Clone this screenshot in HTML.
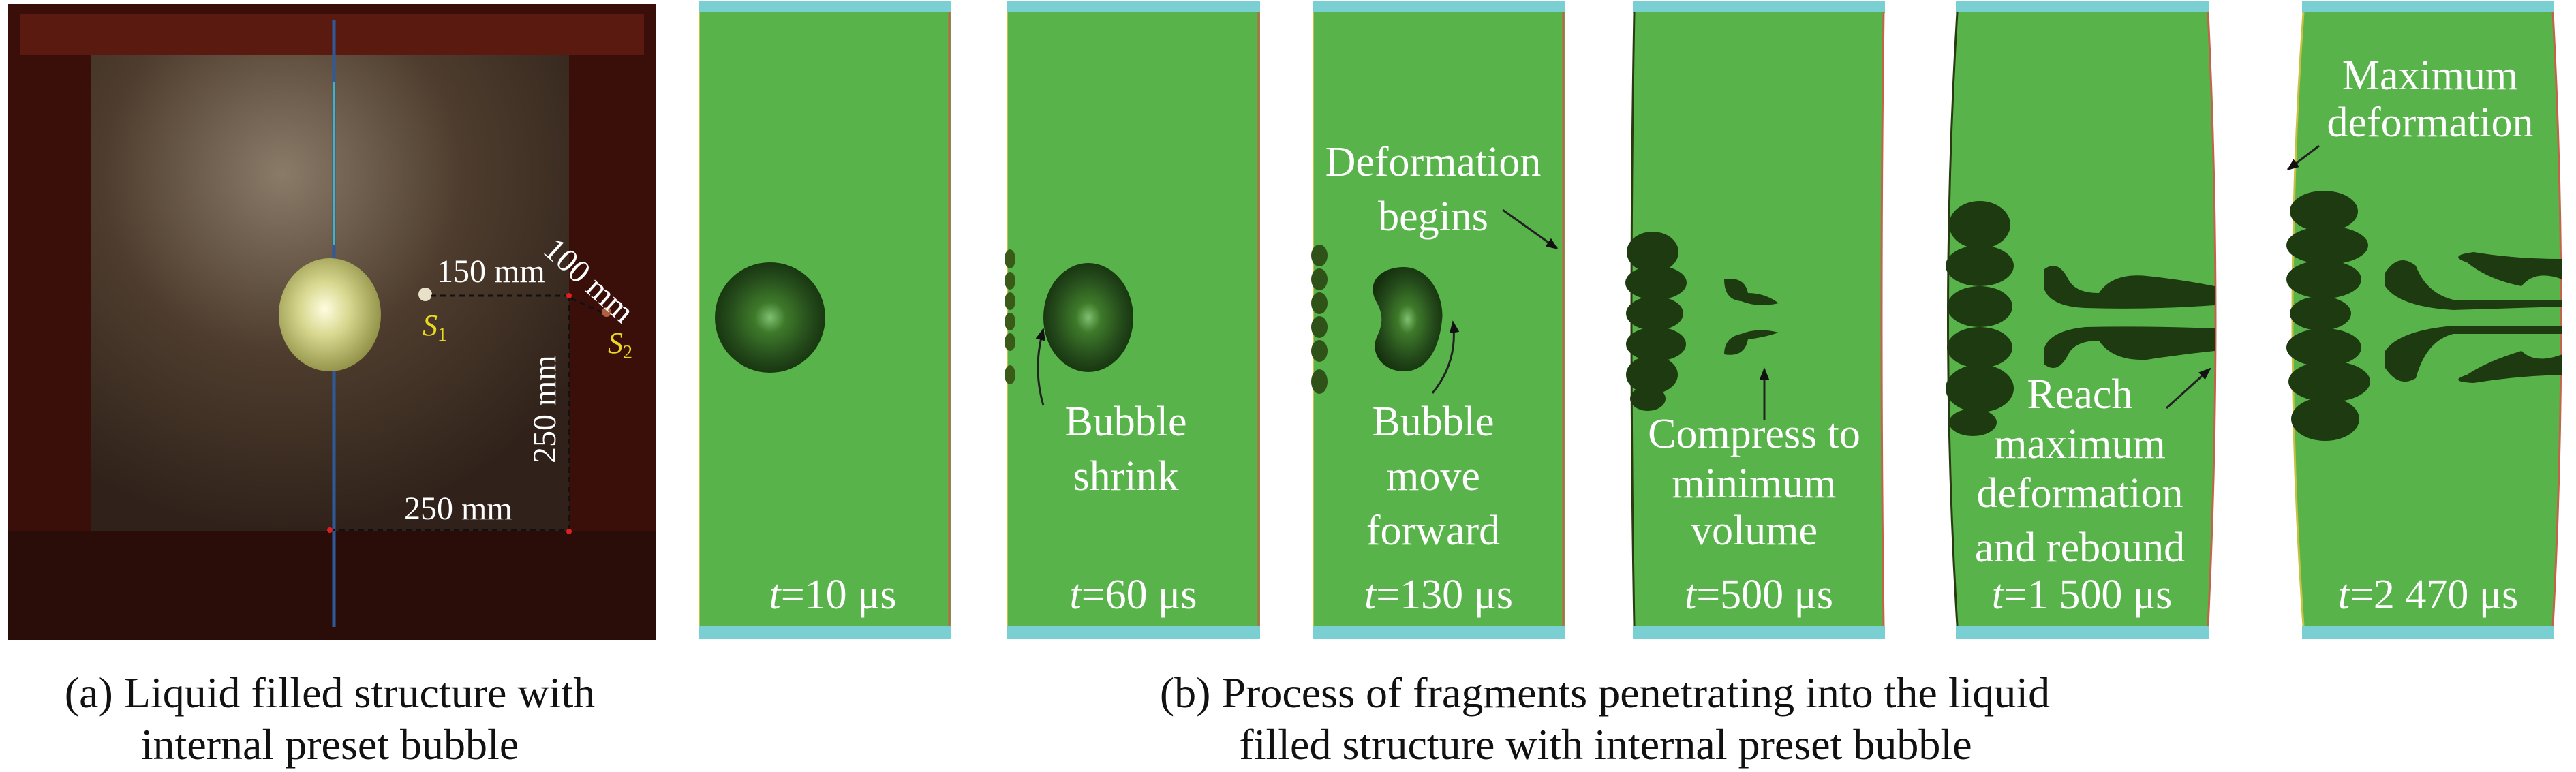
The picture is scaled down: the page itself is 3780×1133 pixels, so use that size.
<!DOCTYPE html>
<html><head><meta charset="utf-8"><style>
html,body{margin:0;padding:0;background:#fff;}
svg{display:block;}
text{font-family:"Liberation Serif","Times New Roman",serif;}
</style></head><body>
<svg width="3780" height="1133" viewBox="0 0 3780 1133" xmlns="http://www.w3.org/2000/svg" font-family="Liberation Serif, Times New Roman, serif">
<defs>
<radialGradient id="bub" cx="50%" cy="50%" r="55%">
<stop offset="0" stop-color="#7fc070"/><stop offset="0.25" stop-color="#3e7a2a"/><stop offset="0.7" stop-color="#23481a"/><stop offset="1" stop-color="#14300c"/></radialGradient>
<radialGradient id="bal" cx="45%" cy="45%" r="60%">
<stop offset="0" stop-color="#fffde0"/><stop offset="0.4" stop-color="#d8d890"/><stop offset="1" stop-color="#8a8a40"/></radialGradient>
<radialGradient id="plate" cx="40%" cy="25%" r="75%">
<stop offset="0" stop-color="#8a7a68"/><stop offset="0.5" stop-color="#4e3d2e"/><stop offset="1" stop-color="#30221a"/></radialGradient>
<marker id="ah" viewBox="0 0 10 10" refX="9" refY="5" markerWidth="6" markerHeight="6" orient="auto"><path d="M0,1 L10,5 L0,9 z" fill="#111"/></marker>
</defs>

<!-- Photo (a) -->
<rect x="12" y="6" width="950" height="934" fill="#3a0f0a"/>
<rect x="30" y="20" width="915" height="60" fill="#5a1a10"/>
<rect x="133" y="80" width="702" height="700" fill="url(#plate)"/>
<rect x="12" y="780" width="950" height="160" fill="#2a0d08"/>
<line x1="490" y1="30" x2="490" y2="920" stroke="#2f5a9a" stroke-width="5"/>
<line x1="490" y1="120" x2="490" y2="360" stroke="#4fb0b0" stroke-width="4"/>
<ellipse cx="484" cy="462" rx="75" ry="83" fill="url(#bal)"/>
<circle cx="624" cy="432" r="10" fill="#e8e0c8"/>
<circle cx="890" cy="458" r="7" fill="#b06040"/>
<g stroke="#111" stroke-width="3" stroke-dasharray="8,6" fill="none">
<line x1="632" y1="434" x2="835" y2="434"/>
<line x1="835" y1="434" x2="835" y2="780"/>
<line x1="484" y1="778" x2="835" y2="778"/>
<line x1="838" y1="438" x2="882" y2="458"/>
</g>
<circle cx="835" cy="434" r="4" fill="#e02020"/><circle cx="835" cy="780" r="4" fill="#e02020"/><circle cx="484" cy="778" r="4" fill="#e02020"/>
<g fill="#fff" font-size="48">
<text x="641" y="414">150 mm</text>
<text x="593" y="762">250 mm</text>
<text transform="translate(815,680) rotate(-90)">250 mm</text>
<text transform="translate(795,370) rotate(42)">100 mm</text>
</g>
<text x="620" y="492" font-size="44" fill="#e8d820" font-style="italic">S<tspan font-size="28" font-style="normal" dy="8">1</tspan></text>
<text x="892" y="518" font-size="44" fill="#e8d820" font-style="italic">S<tspan font-size="28" font-style="normal" dy="8">2</tspan></text>

<!-- Panels -->
<g>
<rect x="1025" y="2" width="370" height="17" fill="#7acfd3"/>
<rect x="1025" y="918" width="370" height="20" fill="#7acfd3"/>
<rect x="1025" y="18" width="370" height="900" fill="#58b44a"/>
<line x1="1393" y1="18" x2="1393" y2="918" stroke="#c0654a" stroke-width="3"/>
<line x1="1026" y1="18" x2="1026" y2="918" stroke="#c8c040" stroke-width="2"/>
<ellipse cx="1130" cy="466" rx="81" ry="81" fill="url(#bub)"/>
</g>
<g>
<rect x="1477" y="2" width="372" height="17" fill="#7acfd3"/>
<rect x="1477" y="918" width="372" height="20" fill="#7acfd3"/>
<rect x="1477" y="18" width="372" height="900" fill="#58b44a"/>
<line x1="1847" y1="18" x2="1847" y2="918" stroke="#c0654a" stroke-width="3"/>
<line x1="1478" y1="18" x2="1478" y2="918" stroke="#c8c040" stroke-width="2"/>
<g fill="#3a5a18"><ellipse cx="1482" cy="380" rx="8" ry="14"/><ellipse cx="1482" cy="412" rx="8" ry="13"/><ellipse cx="1482" cy="442" rx="8" ry="13"/><ellipse cx="1482" cy="472" rx="8" ry="13"/><ellipse cx="1482" cy="502" rx="8" ry="13"/><ellipse cx="1482" cy="550" rx="8" ry="14"/></g>
<ellipse cx="1597" cy="466" rx="66" ry="80" fill="url(#bub)"/>
<path d="M1531,595 Q1515,540 1531,483" stroke="#222" stroke-width="3" fill="none" marker-end="url(#ah)"/>
</g>
<g>
<rect x="1926" y="2" width="370" height="17" fill="#7acfd3"/>
<rect x="1926" y="918" width="370" height="20" fill="#7acfd3"/>
<rect x="1926" y="18" width="370" height="900" fill="#58b44a"/>
<line x1="2294" y1="18" x2="2294" y2="918" stroke="#c0654a" stroke-width="3"/>
<line x1="1927" y1="18" x2="1927" y2="918" stroke="#c8c040" stroke-width="2"/>
<g fill="#2f5218"><ellipse cx="1936" cy="375" rx="12" ry="16"/><ellipse cx="1936" cy="410" rx="12" ry="16"/><ellipse cx="1936" cy="445" rx="12" ry="16"/><ellipse cx="1936" cy="480" rx="12" ry="16"/><ellipse cx="1936" cy="515" rx="12" ry="16"/><ellipse cx="1936" cy="560" rx="12" ry="18"/></g>
<path d="M2060,392 C2100,392 2120,440 2116,470 C2112,510 2095,545 2060,545 C2030,545 2010,520 2020,495 C2030,475 2030,460 2018,440 C2005,410 2030,392 2060,392 Z" fill="url(#bub)"/>
<path d="M2102,577 Q2140,530 2132,472" stroke="#222" stroke-width="3" fill="none" marker-end="url(#ah)"/>
<line x1="2205" y1="308" x2="2285" y2="365" stroke="#222" stroke-width="3" marker-end="url(#ah)"/>
</g>
<g>
<rect x="2396" y="2" width="370" height="17" fill="#7acfd3"/>
<rect x="2396" y="918" width="370" height="20" fill="#7acfd3"/>
<path d="M2398,18 L2764,18 Q2758,468 2764,918 L2398,918 Q2390,468 2398,18 Z" fill="#58b44a"/>
<path d="M2764,18 Q2758,468 2764,918" stroke="#c0654a" stroke-width="3" fill="none"/>
<path d="M2398,18 Q2390,468 2398,918" stroke="#2a3a10" stroke-width="3" fill="none"/>
<g fill="#1e3a10">
<ellipse cx="2425" cy="370" rx="38" ry="30"/><ellipse cx="2430" cy="415" rx="45" ry="25"/><ellipse cx="2428" cy="460" rx="42" ry="25"/><ellipse cx="2430" cy="505" rx="44" ry="25"/><ellipse cx="2424" cy="550" rx="38" ry="28"/><ellipse cx="2418" cy="585" rx="26" ry="18"/>
<path d="M2530,410 Q2560,405 2565,430 Q2590,430 2610,445 Q2580,452 2555,442 Q2530,440 2530,410Z"/>
<path d="M2530,520 Q2560,525 2565,498 Q2590,495 2610,488 Q2580,480 2555,490 Q2530,495 2530,520Z"/>
</g>
<line x1="2589" y1="617" x2="2589" y2="541" stroke="#222" stroke-width="3" marker-end="url(#ah)"/>
</g>
<g>
<rect x="2870" y="2" width="372" height="17" fill="#7acfd3"/>
<rect x="2870" y="918" width="372" height="20" fill="#7acfd3"/>
<path d="M2872,18 L3240,18 Q3262,468 3240,918 L2872,918 Q2845,468 2872,18 Z" fill="#58b44a"/>
<path d="M3240,18 Q3262,468 3240,918" stroke="#c0654a" stroke-width="3" fill="none"/>
<path d="M2872,18 Q2845,468 2872,918" stroke="#2a3a10" stroke-width="3" fill="none"/>
<g fill="#1e3a10">
<ellipse cx="2905" cy="330" rx="45" ry="35"/><ellipse cx="2905" cy="390" rx="50" ry="30"/><ellipse cx="2905" cy="450" rx="48" ry="30"/><ellipse cx="2905" cy="510" rx="48" ry="30"/><ellipse cx="2905" cy="570" rx="50" ry="35"/><ellipse cx="2895" cy="620" rx="35" ry="20"/>
<path d="M3000,395 Q3020,380 3035,410 Q3045,430 3080,430 Q3100,400 3150,405 Q3200,410 3250,420 L3250,448 Q3150,455 3060,452 Q3010,450 3000,425Z"/>
<path d="M3000,535 Q3020,550 3035,520 Q3045,500 3080,500 Q3100,530 3150,528 Q3200,520 3250,515 L3250,482 Q3150,478 3060,480 Q3010,485 3000,510Z"/>
</g>
<line x1="3179" y1="599" x2="3243" y2="541" stroke="#222" stroke-width="3" marker-end="url(#ah)"/>
</g>
<g>
<rect x="3378" y="2" width="370" height="17" fill="#7acfd3"/>
<rect x="3378" y="918" width="370" height="20" fill="#7acfd3"/>
<path d="M3380,18 L3746,18 Q3770,468 3746,918 L3380,918 Q3348,468 3380,18 Z" fill="#58b44a"/>
<path d="M3746,18 Q3770,468 3746,918" stroke="#c0654a" stroke-width="3" fill="none"/>
<path d="M3380,18 Q3348,468 3380,918" stroke="#c8c040" stroke-width="3" fill="none"/>
<g fill="#1e3a10">
<ellipse cx="3410" cy="310" rx="50" ry="30"/><ellipse cx="3415" cy="360" rx="60" ry="28"/><ellipse cx="3410" cy="410" rx="55" ry="28"/><ellipse cx="3405" cy="460" rx="45" ry="25"/><ellipse cx="3410" cy="510" rx="55" ry="28"/><ellipse cx="3418" cy="560" rx="60" ry="30"/><ellipse cx="3412" cy="615" rx="50" ry="32"/>
<path d="M3500,400 Q3520,370 3545,390 Q3560,430 3600,440 L3760,440 L3760,410 Q3720,395 3700,420 Q3650,410 3620,385 Q3590,375 3630,370 Q3690,380 3760,380 L3760,450 L3600,455 Q3520,450 3500,420Z"/>
<path d="M3500,540 Q3520,570 3545,555 Q3560,500 3600,490 L3760,490 L3760,520 Q3720,535 3700,515 Q3650,530 3620,550 Q3590,560 3630,562 Q3690,552 3760,550 L3760,478 L3600,478 Q3520,485 3500,515Z"/>
</g>
<line x1="3403" y1="214" x2="3357" y2="249" stroke="#222" stroke-width="3" marker-end="url(#ah)"/>
</g>

<!-- Panel labels -->
<g fill="#fff" font-size="62" text-anchor="middle">
<text x="1222" y="893"><tspan font-style="italic">t</tspan>=10 μs</text>
<text x="1663" y="893"><tspan font-style="italic">t</tspan>=60 μs</text>
<text x="2111" y="893"><tspan font-style="italic">t</tspan>=130 μs</text>
<text x="2581" y="893"><tspan font-style="italic">t</tspan>=500 μs</text>
<text x="3055" y="893"><tspan font-style="italic">t</tspan>=1 500 μs</text>
<text x="3563" y="893"><tspan font-style="italic">t</tspan>=2 470 μs</text>
<text x="1652" y="639">Bubble</text><text x="1652" y="719">shrink</text>
<text x="2103" y="258">Deformation</text><text x="2103" y="338">begins</text>
<text x="2103" y="639">Bubble</text><text x="2103" y="719">move</text><text x="2103" y="799">forward</text>
<text x="2574" y="657">Compress to</text><text x="2574" y="730">minimum</text><text x="2574" y="799">volume</text>
<text x="3052" y="599">Reach</text><text x="3052" y="672">maximum</text><text x="3052" y="744">deformation</text><text x="3052" y="824">and rebound</text>
<text x="3566" y="131">Maximum</text><text x="3566" y="200">deformation</text>
</g>

<!-- Captions -->
<g fill="#111" font-size="64" text-anchor="middle">
<text x="484" y="1038">(a) Liquid filled structure with</text>
<text x="484" y="1114">internal preset bubble</text>
<text x="2355" y="1038">(b) Process of fragments penetrating into the liquid</text>
<text x="2356" y="1114">filled structure with internal preset bubble</text>
</g>
</svg>
</body></html>
